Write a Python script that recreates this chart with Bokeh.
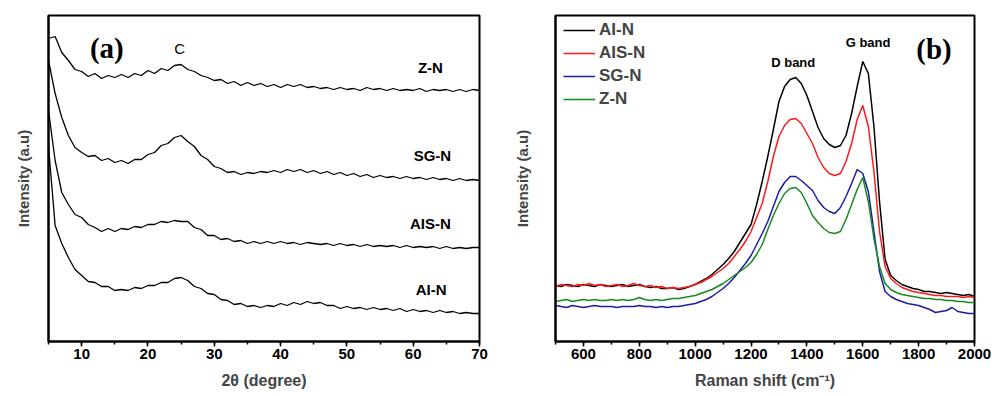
from bokeh.plotting import figure
from bokeh.layouts import row
from bokeh.models import SingleIntervalTicker, FixedTicker, Legend, LegendItem, Range1d
from bokeh.embed import file_html
from bokeh.resources import INLINE
from bokeh.core.properties import value

# ---------------- data: (a) XRD ----------------
two_theta = [5, 6, 7, 8, 9, 10, 11, 12, 13, 14, 15, 16, 17, 18, 19, 20, 21, 22, 23, 24,
             25, 26, 27, 28, 29, 30, 31, 32, 33, 34, 35, 36, 37, 38, 39, 40, 41, 42, 43, 44,
             45, 46, 47, 48, 49, 50, 51, 52, 53, 54, 55, 56, 57, 58, 59, 60, 61, 62, 63, 64,
             65, 66, 67, 68, 69, 70]
xrd_zn = [303, 305, 289, 281, 272, 270, 265, 268, 263, 266, 264, 267, 264, 268, 266, 271, 268, 273, 271, 276,
          277, 272, 270, 266, 264, 261, 262, 258, 260, 256, 259, 256, 258, 255, 257, 254, 257, 255, 257, 254,
          255, 253, 254, 252, 254, 252, 253, 251, 254, 252, 253, 251, 253, 251, 252, 251, 253, 250, 252, 251,
          252, 250, 252, 250, 252, 251]
xrd_sgn = [281, 248, 224, 206, 194, 189, 185, 186, 181, 183, 179, 181, 178, 182, 182, 187, 189, 196, 198, 204,
           206, 200, 195, 186, 182, 175, 173, 169, 170, 167, 169, 168, 170, 169, 171, 169, 172, 170, 172, 169,
           171, 168, 170, 167, 169, 166, 168, 165, 167, 164, 166, 164, 165, 163, 165, 163, 164, 162, 164, 162,
           163, 161, 163, 161, 162, 161]
xrd_aisn = [231, 181, 149, 137, 127, 124, 117, 114, 110, 113, 110, 113, 112, 115, 114, 117, 117, 120, 119, 121,
            120, 120, 114, 112, 106, 106, 102, 103, 100, 101, 98, 100, 98, 100, 98, 100, 98, 99, 97, 99,
            98, 97, 98, 96, 98, 96, 97, 95, 97, 95, 96, 95, 96, 94, 96, 94, 95, 94, 95, 93,
            95, 93, 94, 93, 94, 94]
xrd_ain = [195, 116, 98, 84, 72, 66, 60, 59, 55, 55, 51, 52, 51, 54, 53, 56, 56, 59, 59, 63,
           64, 61, 55, 53, 48, 47, 42, 41, 37, 38, 35, 36, 34, 36, 35, 38, 36, 39, 37, 40,
           38, 39, 36, 36, 33, 35, 33, 34, 32, 34, 32, 33, 31, 33, 30, 32, 30, 31, 29, 31,
           29, 30, 28, 29, 28, 28]
xrd_labels = ["Z-N", "SG-N", "AIS-N", "AI-N"]

# ---------------- data: (b) Raman ----------------
raman_shift = [500, 520, 540, 560, 580, 600, 620, 640, 660, 680,
               700, 720, 740, 760, 780, 800, 820, 840, 860, 880,
               900, 920, 940, 960, 980, 1000, 1020, 1040, 1060, 1080,
               1100, 1120, 1140, 1160, 1180, 1200, 1220, 1240, 1260, 1280,
               1300, 1320, 1340, 1360, 1380, 1400, 1420, 1440, 1460, 1480,
               1500, 1520, 1540, 1560, 1580, 1600, 1620, 1640, 1660, 1680,
               1700, 1720, 1740, 1760, 1780, 1800, 1820, 1840, 1860, 1880,
               1900, 1920, 1940, 1960, 1980, 2000]
raman_ain = [56, 55, 57, 56, 55, 57, 56, 55, 57, 56,
             55, 56, 57, 55, 56, 57, 55, 54, 55, 53,
             53, 54, 52, 53, 55, 57, 60, 63, 67, 72,
             77, 83, 90, 99, 108, 117, 137, 160, 185, 212,
             240, 255, 262, 264, 258, 246, 230, 214, 203, 197,
             194, 196, 206, 228, 255, 280, 268, 215, 140, 82,
             66, 61, 57, 55, 53, 52, 50, 50, 49, 48,
             49, 48, 47, 46, 47, 45]
raman_aisn = [55, 57, 56, 55, 57, 56, 58, 56, 57, 55,
              56, 57, 55, 56, 58, 56, 55, 56, 54, 55,
              53, 54, 53, 54, 55, 57, 59, 62, 65, 69,
              73, 78, 85, 92, 100, 110, 124, 138, 160, 185,
              205, 216, 222, 223, 218, 208, 198, 184, 174, 168,
              166, 168, 180, 198, 222, 236, 215, 170, 110, 75,
              63, 58, 54, 52, 50, 49, 48, 47, 46, 46,
              45, 45, 45, 44, 45, 44]
raman_sgn = [36, 35, 34, 36, 35, 34, 35, 36, 35, 35,
             35, 34, 35, 35, 35, 36, 35, 35, 34, 35,
             34, 35, 35, 36, 37, 38, 40, 42, 45, 49,
             53, 58, 64, 71, 78, 86, 97, 108, 120, 135,
             150, 159, 165, 165, 161, 156, 151, 141, 134, 130,
             128, 134, 145, 158, 172, 168, 150, 110, 70, 50,
             45, 42, 40, 38, 37, 36, 34, 32, 29, 30,
             31, 34, 30, 29, 28, 28]
raman_zn = [40, 41, 42, 40, 41, 42, 41, 42, 41, 41,
            42, 41, 42, 41, 42, 44, 42, 41, 42, 41,
            42, 43, 43, 44, 45, 46, 48, 50, 52, 55,
            58, 62, 66, 70, 74, 79, 87, 97, 112, 126,
            138, 148, 153, 154, 149, 138, 126, 119, 113, 109,
            108, 110, 122, 137, 152, 164, 140, 103, 75, 58,
            52, 49, 47, 46, 45, 44, 43, 43, 42, 42,
            41, 41, 40, 40, 39, 39]
raman_labels = ["AI-N", "AIS-N", "SG-N", "Z-N"]
raman_colors = ["#000000", "#ff1a1a", "#1c1ca6", "#168a1e"]

SANS = "Liberation Sans"
SERIF = "Liberation Serif"


def make_fig(xr, interval, xlabel, ml, mr, ylab_standoff):
    p = figure(width=496, height=396, x_range=Range1d(*xr), y_range=Range1d(0, 326),
               output_backend="svg", toolbar_location=None,
               min_border_left=ml, min_border_right=mr, min_border_top=15, min_border_bottom=55)
    p.grid.visible = False
    p.background_fill_color = "white"
    p.border_fill_color = "white"
    p.outline_line_color = "black"
    p.outline_line_width = 2
    p.outline_line_alpha = 1
    ax = p.xaxis[0]
    ax.ticker = SingleIntervalTicker(interval=interval, num_minor_ticks=2)
    ax.axis_line_width = 2
    ax.major_tick_line_width = 1.5
    ax.minor_tick_line_width = 1.5
    ax.major_tick_in = 0
    ax.major_tick_out = 5
    ax.minor_tick_in = 0
    ax.minor_tick_out = 3
    ax.major_label_standoff = 2
    ax.major_label_text_font = SANS
    ax.major_label_text_font_style = "bold"
    ax.major_label_text_font_size = "15px"
    ax.major_label_text_color = "black"
    ax.axis_label = xlabel
    ax.axis_label_text_font = SANS
    ax.axis_label_text_font_style = "bold"
    ax.axis_label_text_font_size = "16px"
    ax.axis_label_standoff = 10
    ay = p.yaxis[0]
    ay.ticker = FixedTicker(ticks=[])
    ay.axis_line_width = 2
    ay.major_tick_line_color = None
    ay.minor_tick_line_color = None
    ay.major_label_standoff = 0
    ay.axis_label = "Intensity (a.u)"
    ay.axis_label_text_font = SANS
    ay.axis_label_text_font_style = "bold"
    ay.axis_label_text_font_size = "15px"
    ay.axis_label_standoff = ylab_standoff
    return p


# ---------------- panel (a) ----------------
pa = make_fig((5, 70), 10, "2θ (degree)", 48, 17, 17)
for ys in (xrd_zn, xrd_sgn, xrd_aisn, xrd_ain):
    pa.line(two_theta, ys, line_color="black", line_width=1.3)

pa.text(x=[62.6, 62.9, 62.6, 62.7], y=[274, 186, 118, 52], text=xrd_labels,
        text_font=value(SANS), text_font_style="bold", text_font_size="15px",
        text_align="center", text_baseline="middle", text_color="black")
pa.text(x=[24.8], y=[293], text=["C"], text_font=value(SANS), text_font_size="15px",
        text_align="center", text_baseline="middle", text_color="black")
pa.text(x=[13.8], y=[294], text=["(a)"], text_font=value(SERIF), text_font_style="bold",
        text_font_size="29px", text_align="center", text_baseline="middle", text_color="black")

# ---------------- panel (b) ----------------
pb = make_fig((500, 2000), 200, "Raman shift (cm⁻¹)", 59, 18, 25)
renderers = []
for ys, c in zip((raman_ain, raman_aisn, raman_sgn, raman_zn), raman_colors):
    renderers.append(pb.line(raman_shift, ys, line_color=c, line_width=1.5))

legend = Legend(items=[LegendItem(label=lab, renderers=[r]) for lab, r in zip(raman_labels, renderers)],
                location=(8, 232), margin=0, padding=3, spacing=3,
                glyph_width=32, glyph_height=20, label_height=20, label_standoff=4,
                label_text_font=SANS, label_text_font_style="bold", label_text_font_size="17px",
                border_line_color=None, background_fill_alpha=0)
pb.add_layout(legend)

pb.text(x=[1351, 1619], y=[279, 299], text=["D band", "G band"], text_font=value(SANS),
        text_font_style="bold", text_font_size="13px", text_align="center",
        text_baseline="middle", text_color="black")
pb.text(x=[1855], y=[293], text=["(b)"], text_font=value(SERIF), text_font_style="bold",
        text_font_size="29px", text_align="center", text_baseline="middle", text_color="black")

layout = row(pa, pb)
open("out.html", "w").write(file_html(layout, INLINE))
